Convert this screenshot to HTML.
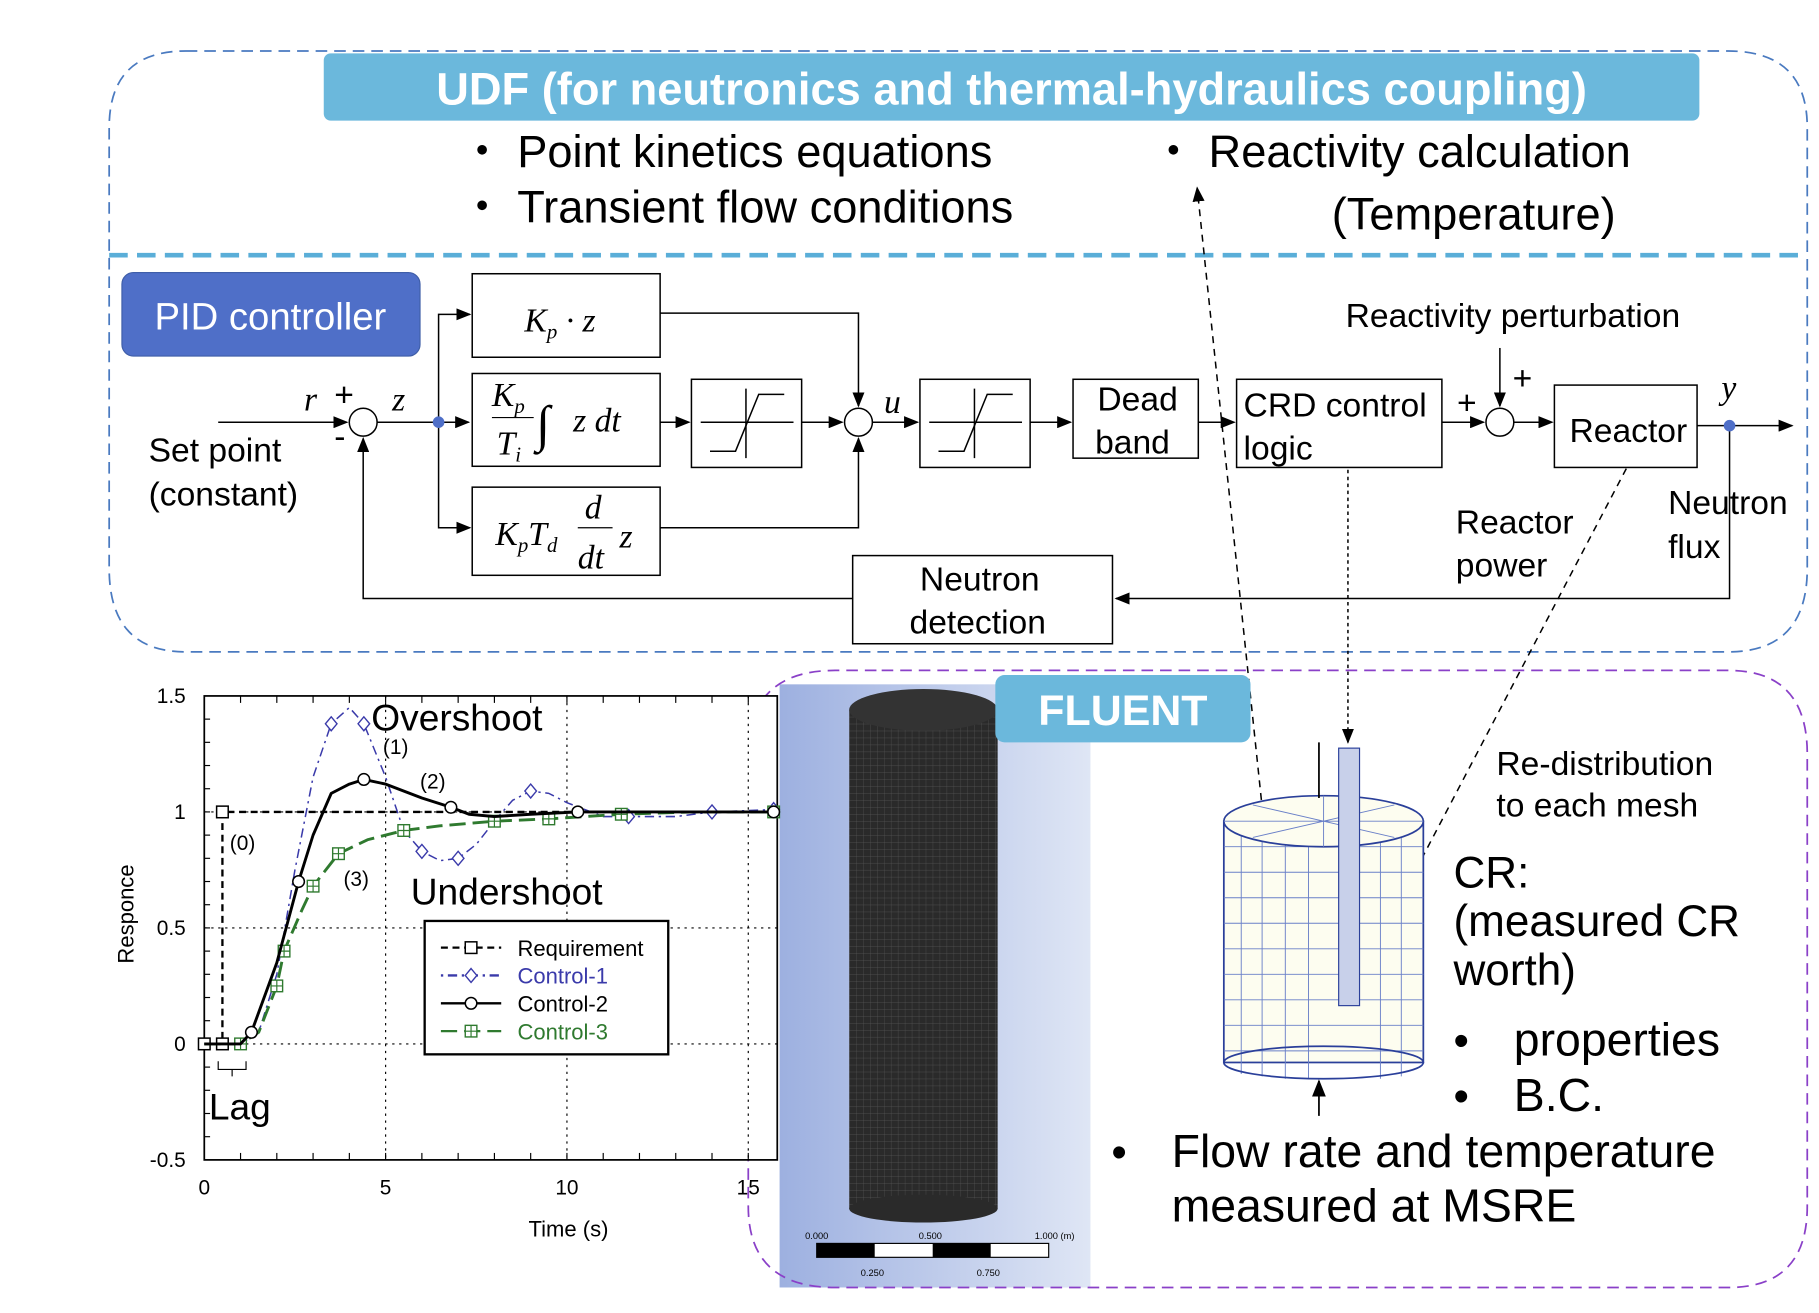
<!DOCTYPE html>
<html><head><meta charset="utf-8"><style>
html,body{margin:0;padding:0;background:#fff}
svg{display:block}
text{font-family:"Liberation Sans",sans-serif}
.m{font-family:"Liberation Serif",serif;font-style:italic}
</style></head><body>
<svg id="s" width="1819" height="1313" viewBox="0 0 1568 1132" xmlns="http://www.w3.org/2000/svg">
<defs>
<marker id="ar" markerWidth="10" markerHeight="8" refX="9" refY="4" orient="auto"><path d="M0,0 L10,4 L0,8z" fill="#000"/></marker>
<linearGradient id="bg" x1="0" x2="1"><stop offset="0" stop-color="#9db0e0"/><stop offset="1" stop-color="#dfe6f5"/></linearGradient>
<pattern id="mesh" width="6" height="6" patternUnits="userSpaceOnUse"><rect width="6" height="6" fill="#2a2a2a"/><path d="M0,0H6M0,0V6" stroke="#555" stroke-width="0.6"/></pattern>
</defs>
<path d="M160,44 H1490 Q1558,44 1558,110 V490 Q1558,562 1490,562 H160 Q94,562 94,490 V110 Q94,44 160,44Z" fill="none" stroke="#4a7ac0" stroke-width="1.5" stroke-dasharray="10,6"/>
<line x1="94" y1="220" x2="1558" y2="220" stroke="#5aaed8" stroke-width="4" stroke-dasharray="16,8"/>
<rect x="279" y="46" width="1186" height="58" rx="6" fill="#6bb8dc"/>
<text x="872" y="90" font-size="39" font-weight="bold" fill="#fff" text-anchor="middle">UDF (for neutronics and thermal-hydraulics coupling)</text>
<g font-size="39" fill="#000">
<text x="396" y="144">・ Point kinetics equations</text>
<text x="396" y="192">・ Transient flow conditions</text>
<text x="992" y="144">・ Reactivity calculation</text>
<text x="1148" y="198">(Temperature)</text>
</g>
<rect x="105" y="235" width="257" height="72" rx="10" fill="#4f6fc8" stroke="#3f5ea8"/>
<text x="233" y="284" font-size="33" fill="#fff" text-anchor="middle">PID controller</text>
<g stroke="#000" stroke-width="1.3" fill="#fff">
<rect x="407" y="236" width="162" height="72"/>
<rect x="407" y="322" width="162" height="80"/>
<rect x="407" y="420" width="162" height="76"/>
<rect x="596" y="327" width="95" height="76"/>
<rect x="793" y="327" width="95" height="76"/>
<rect x="925" y="327" width="108" height="68"/>
<rect x="1066" y="327" width="177" height="76"/>
<rect x="1340" y="332" width="123" height="71"/>
<rect x="735" y="479" width="224" height="76"/>
<circle cx="313" cy="364" r="12"/><circle cx="740" cy="364" r="12"/><circle cx="1293" cy="364" r="12"/>
</g>
<g stroke="#000" stroke-width="1.3" fill="none">
<path d="M188,364 H299" marker-end="url(#ar)"/>
<path d="M325,364 H404" marker-end="url(#ar)"/>
<path d="M378,364 V271 H405" marker-end="url(#ar)"/>
<path d="M378,364 V455 H405" marker-end="url(#ar)"/>
<path d="M569,364 H594" marker-end="url(#ar)"/>
<path d="M691,364 H726" marker-end="url(#ar)"/>
<path d="M569,270 H740 V350" marker-end="url(#ar)"/>
<path d="M569,455 H740 V378" marker-end="url(#ar)"/>
<path d="M752,364 H791" marker-end="url(#ar)"/>
<path d="M888,364 H923" marker-end="url(#ar)"/>
<path d="M1033,364 H1064" marker-end="url(#ar)"/>
<path d="M1243,364 H1279" marker-end="url(#ar)"/>
<path d="M1305,364 H1338" marker-end="url(#ar)"/>
<path d="M1293,300 V350" marker-end="url(#ar)"/>
<path d="M1463,367 H1545" marker-end="url(#ar)"/>
<path d="M1491,367 V516 H962" marker-end="url(#ar)"/>
<path d="M735,516 H313 V378" marker-end="url(#ar)"/>
<path d="M612,389 H634 L654,340 H676"/><path d="M809,389 H831 L851,340 H873"/>
<path d="M643,335 V395 M604,364 H684"/><path d="M840,335 V395 M801,364 H881"/>
<path d="M1162,405 V640" stroke-dasharray="3,3" marker-end="url(#ar)"/>
<path d="M1100,810 L1032,162" stroke-dasharray="6,5" marker-end="url(#ar)"/>
<path d="M1402,404 L1210,770" stroke-dasharray="6,5" marker-end="url(#ar)"/>
</g>
<circle cx="378" cy="364" r="5" fill="#4f6fc8"/><circle cx="1491" cy="367" r="5" fill="#4f6fc8"/>
<g font-size="29" fill="#000">
<text class="m" x="262" y="354">r</text><text x="288" y="350">+</text><text x="288" y="386">-</text>
<text class="m" x="338" y="354">z</text><text class="m" x="762" y="356">u</text><text class="m" x="1484" y="344">y</text>
<text x="1256" y="357">+</text><text x="1304" y="336">+</text>
<text class="m" x="452" y="286">K<tspan font-size="18" dy="6">p</tspan><tspan dy="-6"> · z</tspan></text>
<text class="m" x="424" y="350">K<tspan font-size="18" dy="6">p</tspan></text><line x1="424" y1="360" x2="460" y2="360" stroke="#000"/>
<text class="m" x="428" y="392">T<tspan font-size="18" dy="6">i</tspan></text>
<text class="m" x="462" y="380" font-size="44">∫</text><text class="m" x="494" y="372">z dt</text>
<text class="m" x="427" y="470">K<tspan font-size="18" dy="6">p</tspan><tspan dy="-6">T</tspan><tspan font-size="18" dy="6">d</tspan></text>
<text class="m" x="504" y="447">d</text><line x1="498" y1="455" x2="528" y2="455" stroke="#000"/><text class="m" x="498" y="490">dt</text><text class="m" x="534" y="472">z</text>
<text x="128" y="398">Set point</text><text x="128" y="436">(constant)</text>
<text x="946" y="354">Dead</text><text x="944" y="391">band</text>
<text x="1072" y="359">CRD control</text><text x="1072" y="396">logic</text>
<text x="1353" y="381" font-family="Liberation Serif">Reactor</text>
<text x="1160" y="282">Reactivity perturbation</text>
<text x="1255" y="460">Reactor</text><text x="1255" y="497">power</text>
<text x="1438" y="443">Neutron</text><text x="1438" y="481">flux</text>
<text x="793" y="509">Neutron</text><text x="784" y="546">detection</text>
</g>
<rect x="672" y="590" width="268" height="520" fill="url(#bg)"/>
<path d="M760,578 H1490 Q1558,578 1558,650 V1040 Q1558,1110 1490,1110 H720 Q645,1110 645,1040 V650 Q645,578 720,578Z" fill="none" stroke="#8a40c8" stroke-width="1.5" stroke-dasharray="10,6"/>
<rect x="732" y="612" width="128" height="430" fill="url(#mesh)"/>
<ellipse cx="796" cy="612" rx="64" ry="18" fill="#333"/><ellipse cx="796" cy="1042" rx="64" ry="12" fill="#2a2a2a"/>
<rect x="704" y="1072" width="200" height="12" fill="#fff" stroke="#000"/>
<rect x="704" y="1072" width="50" height="12" fill="#000"/><rect x="804" y="1072" width="50" height="12" fill="#000"/>
<g font-size="8"><text x="694" y="1068">0.000</text><text x="792" y="1068">0.500</text><text x="892" y="1068">1.000 (m)</text><text x="742" y="1100">0.250</text><text x="842" y="1100">0.750</text></g>
<rect x="858" y="582" width="220" height="58" rx="8" fill="#6bb8dc"/>
<text x="968" y="625" font-size="37" font-weight="bold" fill="#fff" text-anchor="middle">FLUENT</text>
<rect x="1055" y="708" width="172" height="208" fill="#fdfdf0" stroke="#2a3f9a" stroke-width="1.5"/>
<g stroke="#6a80c8" stroke-width="0.8" fill="none">
<path d="M1055,730H1227M1055,752H1227M1055,774H1227M1055,796H1227M1055,818H1227M1055,840H1227M1055,862H1227M1055,884H1227M1055,906H1227"/>
<path d="M1070,712V926M1088,714V928M1108,716V930M1128,716V930M1190,716V930M1208,714V928"/>
</g>
<ellipse cx="1141" cy="916" rx="86" ry="14" fill="none" stroke="#2a3f9a" stroke-width="1.5"/>
<ellipse cx="1141" cy="708" rx="86" ry="22" fill="#fdfdf0" stroke="#2a3f9a" stroke-width="1.5"/>
<path d="M1055,708H1227M1141,686V730M1080,694L1202,722M1080,722L1202,694" stroke="#6a80c8" stroke-width="0.8"/>
<rect x="1154" y="645" width="18" height="222" fill="#c8d0ea" stroke="#2a3f9a"/>
<path d="M1137,688 V640 M1137,962 V932" stroke="#000" stroke-width="1.5" marker-end="url(#ar)"/>
<g font-size="38" fill="#000">
<text x="1290" y="668" font-size="29">Re-distribution</text><text x="1290" y="704" font-size="29">to each mesh</text>
<text x="1253" y="765">CR:</text><text x="1253" y="807">(measured CR</text><text x="1253" y="849">worth)</text>
<text x="1253" y="910">•</text><text x="1305" y="910" font-size="40">properties</text>
<text x="1253" y="958">•</text><text x="1305" y="958" font-size="40">B.C.</text>
<text x="958" y="1006">•</text><text x="1010" y="1006" font-size="40">Flow rate and temperature</text>
<text x="1010" y="1053" font-size="40">measured at MSRE</text>
</g>
<g id="chart"></g>
</svg>
<script>
const xTicks=[0,5,10,15];
const yTicks=[-0.5,0,0.5,1,1.5];
const reqT=[0,0.5,0.5,15.7];
const reqY=[0,0,1,1];
const c1T=[0,1,1.5,2,2.5,3,3.5,4,4.4,5,5.5,6,6.5,7,7.5,8,8.5,9,9.5,10,11,11.7,13,14,15.7];
const c1Y=[0,0,0.05,0.3,0.75,1.15,1.38,1.45,1.38,1.15,0.92,0.83,0.79,0.8,0.86,0.96,1.05,1.09,1.08,1.04,0.98,0.98,0.98,1.0,1.01];
const c2T=[0,1,1.3,2,2.6,3,3.5,4,4.4,5,6,6.8,7.3,8,9,10.3,12,15.7];
const c2Y=[0,0,0.05,0.35,0.7,0.9,1.08,1.12,1.14,1.12,1.06,1.02,0.99,0.98,0.99,1.0,1.0,1.0];
const c3T=[0,1,1.5,2,2.2,2.7,3,3.7,4.5,5.5,6.5,8,9.5,11.5,13.5,15.7];
const c3Y=[0,0,0.05,0.25,0.4,0.58,0.68,0.82,0.88,0.92,0.94,0.96,0.97,0.99,1.0,1.0];
const req_m=[0,1,2];const c1_m=[6,8,11,13,17,21,23,24];const c2_m=[2,4,8,11,15,17];const c3_m=[1,3,4,6,7,9,11,12,13,15];
const X0=176,X1=670,Y0=1000,Y1=600;
const sx=t=>X0+t*(645-176)/15;
const sy=v=>Y0-(v+0.5)*(Y0-Y1)/2;
const NS='http://www.w3.org/2000/svg';
const g=document.getElementById('chart');
function mk(tag,at,txt){const e=document.createElementNS(NS,tag);for(const k in at)e.setAttribute(k,at[k]);if(txt!==undefined)e.textContent=txt;g.appendChild(e);return e;}
let e;
e=mk('rect',{x:X0,y:Y1,width:X1-X0,height:Y0-Y1,fill:'#fff',stroke:'#000','stroke-width':1.5});


xTicks.forEach(t=>{if(t>0&&t<16){e=mk('line',{x1:sx(t),x2:sx(t),y1:Y1,y2:Y0,stroke:'#000','stroke-dasharray':'2,4'});}
e=mk('text',{x:sx(t),y:1030,'font-size':18,'text-anchor':'middle'},String(t));

});
yTicks.forEach(v=>{if(v>-0.5&&v<1.5){mk('line',{x1:X0,x2:X1,y1:sy(v),y2:sy(v),stroke:'#000','stroke-dasharray':'2,4'});}
e=mk('text',{x:160,y:sy(v)+6,'font-size':18,'text-anchor':'end'},String(v));

});
for(let t=0;t<=15.7;t+=1){mk('line',{x1:sx(t),x2:sx(t),y1:Y0,y2:Y0-6,stroke:'#000'});mk('line',{x1:sx(t),x2:sx(t),y1:Y1,y2:Y1+6,stroke:'#000'});}
for(let v=-0.5;v<=1.5;v+=0.1){mk('line',{x1:X0,x2:X0+5,y1:sy(v),y2:sy(v),stroke:'#000'});}
e=mk('text',{x:490,y:1066,'font-size':19,'text-anchor':'middle'},'Time (s)');


e=mk('text',{x:115,y:788,'font-size':19,'text-anchor':'middle',transform:'rotate(-90 115 788)'},'Responce');


function marker(kind,x,y,col){
 if(kind==='sq')mk('rect',{x:x-5,y:y-5,width:10,height:10,fill:'#fff',stroke:col,'stroke-width':1.3});
 else if(kind==='di')mk('path',{d:`M${x},${y-6}L${x+5},${y}L${x},${y+6}L${x-5},${y}Z`,fill:'#fff',stroke:col,'stroke-width':1.2});
 else if(kind==='ci')mk('circle',{cx:x,cy:y,r:5,fill:'#fff',stroke:col,'stroke-width':1.3});
 else {mk('rect',{x:x-5,y:y-5,width:10,height:10,fill:'#fff',stroke:col,'stroke-width':1.2});mk('path',{d:`M${x-5},${y}H${x+5}M${x},${y-5}V${y+5}`,stroke:col,'stroke-width':1});}
}
function series(T,Y,M,col,dash,w,kind,name){
 let p=mk('polyline',{points:T.map((t,i)=>sx(t)+','+sy(Y[i])).join(' '),fill:'none',stroke:col,'stroke-width':w,'stroke-dasharray':dash,'stroke-linejoin':'round'});
 
 
 M.forEach(i=>marker(kind,sx(T[i]),sy(Y[i]),col));
}
series(reqT,reqY,req_m,'#000','6,4',2,'sq','requirement-line');
series(c1T,c1Y,c1_m,'#3a3aaa','2,4,8,4',1.3,'di','control-1-line');
series(c3T,c3Y,c3_m,'#2f7a2f','14,6',2.5,'pl','control-3-line');
series(c2T,c2Y,c2_m,'#000','',2.5,'ci','control-2-line');
mk('text',{x:320,y:630,'font-size':32},'Overshoot');
mk('text',{x:354,y:780,'font-size':32},'Undershoot');
mk('text',{x:180,y:965,'font-size':32},'Lag');
mk('path',{d:'M188,915 V922 H212 V915 M200,922 V928',fill:'none',stroke:'#000'});
[['(0)',198,733],['(1)',330,650],['(2)',362,680],['(3)',296,764]].forEach(a=>mk('text',{x:a[1],y:a[2],'font-size':18},a[0]));
e=mk('rect',{x:366,y:794,width:210,height:115,fill:'#fff',stroke:'#000','stroke-width':2});


[['Requirement','#000','6,4','sq'],['Control-1','#3a3aaa','2,4,8,4','di'],['Control-2','#000','','ci'],['Control-3','#2f7a2f','14,6','pl']].forEach((L,i)=>{
 const y=817+i*24;
 mk('line',{x1:380,x2:432,y1:y,y2:y,stroke:L[1],'stroke-width':2,'stroke-dasharray':L[2]});
 marker(L[3],406,y,L[1]);
 e=mk('text',{x:446,y:y+7,'font-size':19,fill:L[1]},L[0]);
 
 
});
</script>
</body></html>
